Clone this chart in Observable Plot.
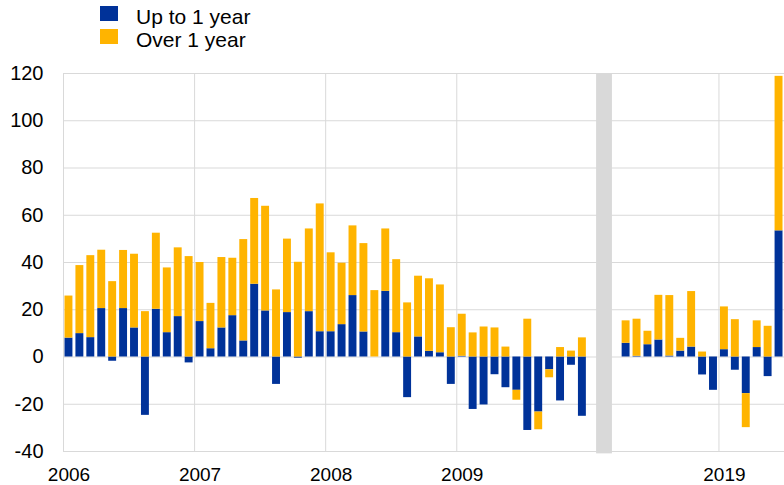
<!DOCTYPE html>
<html>
<head>
<meta charset="utf-8">
<script src="https://cdn.jsdelivr.net/npm/d3@7"></script>
<script src="https://cdn.jsdelivr.net/npm/@observablehq/plot@0.6"></script>
<style>
  html, body { margin: 0; padding: 0; background: #fff; }
  body { width: 784px; height: 485px; overflow: hidden; font-family: "Liberation Sans", Arial, sans-serif; }
  #legend { position: relative; height: 50px; }
  .sw { position: absolute; left: 100px; width: 18px; height: 15px; }
  .lt { position: absolute; left: 136px; font-size: 21px; line-height: 21px; color: #000; }
</style>
</head>
<body>
<div id="legend">
  <div class="sw" style="top:6px;background:#003299"></div>
  <div class="lt" style="top:6px">Up to 1 year</div>
  <div class="sw" style="top:29px;background:#FFB400"></div>
  <div class="lt" style="top:29px">Over 1 year</div>
</div>
<div id="chart"></div>
<script>
// Periods: monthly, 2006-2009, then 2018-2019 (Jan-Jun 2019)
const yearsBlock1 = [2006, 2007, 2008, 2009];
const yearsBlock2 = [2018, 2019];
const monthsLastYear = 6;
const seriesNames = ["Up to 1 year", "Over 1 year"];
const seriesColors = ["#003299", "#FFB400"];

const upTo1Year = [
  8.0, 9.9, 8.2, 20.5, -1.8, 20.5, 12.3, -24.7, 20.2, 10.3, 17.1, -2.5,
  15.0, 3.5, 12.3, 17.5, 6.8, 30.8, 19.5, -11.6, 18.8, -0.5, 19.2, 10.7,
  10.7, 13.7, 26.0, 10.6, 0, 27.8, 10.3, -17.2, 8.5, 2.4, 1.8, -11.6,
  0.3, -22.2, -20.3, -7.5, -13.0, -14.1, -31.1, -23.3, -5.4, -18.6, -3.5, -25.1,
  null, null, null, 5.8, 0.3, 5.2, 7.2, 0.4, 2.5, 4.2, -7.6, -14.1, 3.1, -5.6,
  -15.5, 4.0, -8.3, 53.4
];
const over1Year = [
  17.8, 28.8, 34.7, 24.7, 31.9, 24.6, 31.2, 19.2, 32.2, 27.4, 29.1, 42.5,
  25.0, 19.2, 29.8, 24.3, 42.9, 36.3, 44.3, 28.4, 31.1, 40.1, 35.0, 54.1,
  33.4, 26.0, 29.5, 37.4, 28.1, 26.4, 30.9, 22.9, 25.7, 30.7, 28.7, 12.4,
  17.8, 10.2, 12.7, 12.3, 4.2, -4.2, 16.0, -7.5, -3.4, 4.0, 2.5, 8.1,
  null, null, null, 9.5, 15.7, 5.7, 18.9, 25.6, 5.4, 23.5, 2.1, 0, 18.1, 15.8,
  -14.4, 11.3, 13.0, 65.4
];
const yTicks = [-40, -20, 0, 20, 40, 60, 80, 100, 120];
const yearLabels = ["2006", "2007", "2008", "2009", "2019"];

// build month list
const months = [];
for (const y of yearsBlock1) for (let m = 1; m <= 12; m++) months.push({year: y, month: m});
for (const y of yearsBlock2) {
  const last = y === yearsBlock2[yearsBlock2.length - 1] ? monthsLastYear : 12;
  for (let m = 1; m <= last; m++) months.push({year: y, month: m});
}
months.forEach((d, i) => d.i = i);

const data = [];
months.forEach((d, i) => {
  if (upTo1Year[i] == null) return;
  data.push({i, series: seriesNames[0], value: upTo1Year[i]});
  data.push({i, series: seriesNames[1], value: over1Year[i]});
});

// year boundaries (gridlines) and label positions
const yearStarts = months.filter(d => d.month === 1 && d.year !== 2018).map(d => d.i);
const labelData = months.filter(d => d.month === 1 && yearLabels.includes(String(d.year)))
  .map(d => ({pos: d.i + 0.5, label: String(d.year)}));
// break marker between 2009 and 2018
const breakMonth = months.find(d => d.year === 2018 && d.month === 1).i;
const breakSpan = [{x1: breakMonth + 0.8, x2: breakMonth + 2.25}];

const chart = Plot.plot({
  width: 784,
  height: 435,
  marginTop: 23,
  marginBottom: 34,
  marginLeft: 63,
  marginRight: 0,
  style: {fontSize: "20px", fontFamily: "'Liberation Sans', Arial, sans-serif", color: "#000", background: "#fff"},
  x: {domain: [0, months.length], axis: null},
  y: {domain: [-40, 120], ticks: yTicks, tickSize: 0, tickPadding: 20, tickFormat: d => String(d), label: null},
  color: {domain: seriesNames, range: seriesColors},
  marks: [
    Plot.ruleY(yTicks, {stroke: "#d9d9d9", strokeWidth: 1}),
    Plot.ruleX(yearStarts, {stroke: "#d9d9d9", strokeWidth: 1}),
    Plot.rect(breakSpan, {x1: "x1", x2: "x2", y1: -41, y2: 120, fill: "#d9d9d9"}),
    Plot.rectY(data, {x1: "i", x2: d => d.i + 1, y: "value", fill: "series", insetLeft: 1.5, insetRight: 1.5}),
    Plot.text(labelData, {x: "pos", y: -40, text: "label", dy: 23, fontSize: 19, fill: "#000"})
  ]
});
document.getElementById("chart").appendChild(chart);
</script>
</body>
</html>
